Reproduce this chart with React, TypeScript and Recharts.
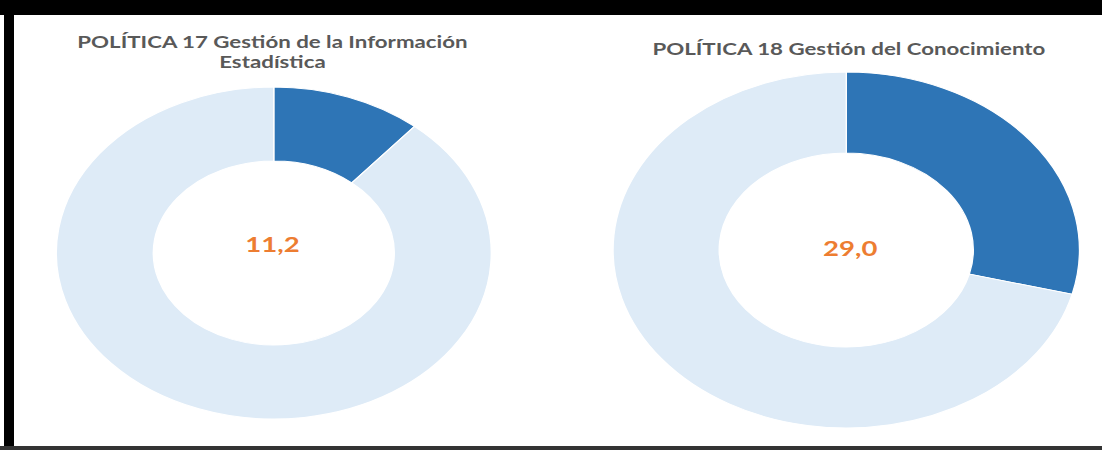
import { PieChart, Pie, Cell } from 'recharts';

// values (percent achieved vs remainder)
const politica17 = [
    { name: 'Avance', value: 11.2 },
    { name: 'Resto', value: 88.8 },
];
const politica18 = [
    { name: 'Avance', value: 29.0 },
    { name: 'Resto', value: 71.0 },
];
const centerLabels = ['11,2', '29,0'];
const titles17 = ['POLÍTICA 17 Gestión de la Información', 'Estadística'];
const titles18 = ['POLÍTICA 18 Gestión del Conocimiento'];

const colors = ['#2E75B6', '#DEEBF7'];

// the original picture is stretched horizontally, so we draw at a narrower width and scale
const STRETCH = 1.31;
const W = 841;
const H = 450;
const FONT = 'Lato, "Open Sans", sans-serif';

const titleStyle = {
    position: 'absolute' as const,
    width: 400,
    textAlign: 'center' as const,
    fontFamily: FONT,
    fontWeight: 700,
    fontSize: 17,
    lineHeight: '20px',
    color: '#595959',
};

const valueStyle = {
    position: 'absolute' as const,
    width: 100,
    textAlign: 'center' as const,
    fontFamily: FONT,
    fontWeight: 700,
    fontSize: 21,
    lineHeight: '20px',
    color: '#ED7D31',
};

export default function App() {
    return (
        <div style={{ position: 'fixed', left: 0, top: 0, width: 1102, height: 450, background: '#fff', overflow: 'hidden' }}>
            <div style={{ position: 'absolute', left: 0, top: 0, width: W, height: H, transform: `scaleX(${STRETCH})`, transformOrigin: '0 0' }}>
                <PieChart width={W} height={H} margin={{ top: 0, right: 0, bottom: 0, left: 0 }}>
                    <Pie
                        data={politica17}
                        dataKey="value"
                        cx={209}
                        cy={253}
                        innerRadius={92}
                        outerRadius={166}
                        startAngle={90}
                        endAngle={-270}
                        stroke="#fff"
                        strokeWidth={1}
                        isAnimationActive={false}
                    >
                        {politica17.map((d, i) => (
                            <Cell key={d.name} fill={colors[i]} />
                        ))}
                    </Pie>
                    <Pie
                        data={politica18}
                        dataKey="value"
                        cx={646}
                        cy={250}
                        innerRadius={97}
                        outerRadius={178}
                        startAngle={90}
                        endAngle={-270}
                        stroke="#fff"
                        strokeWidth={1}
                        isAnimationActive={false}
                    >
                        {politica18.map((d, i) => (
                            <Cell key={d.name} fill={colors[i]} />
                        ))}
                    </Pie>
                </PieChart>
                <div style={{ ...titleStyle, left: 208 - 200, top: 32 }}>
                    {titles17.map((t) => (
                        <div key={t}>{t}</div>
                    ))}
                </div>
                <div style={{ ...titleStyle, left: 648 - 200, top: 39 }}>
                    {titles18.map((t) => (
                        <div key={t}>{t}</div>
                    ))}
                </div>
                <div style={{ ...valueStyle, left: 208 - 50, top: 234 }}>{centerLabels[0]}</div>
                <div style={{ ...valueStyle, left: 649 - 50, top: 238 }}>{centerLabels[1]}</div>
            </div>
            {/* frame */}
            <div style={{ position: 'absolute', left: 0, top: 0, width: 1102, height: 15, background: '#000' }} />
            <div style={{ position: 'absolute', left: 4, top: 0, width: 10, height: 450, background: '#000' }} />
            <div style={{ position: 'absolute', left: 0, top: 446, width: 1102, height: 4, background: '#333' }} />
        </div>
    );
}
